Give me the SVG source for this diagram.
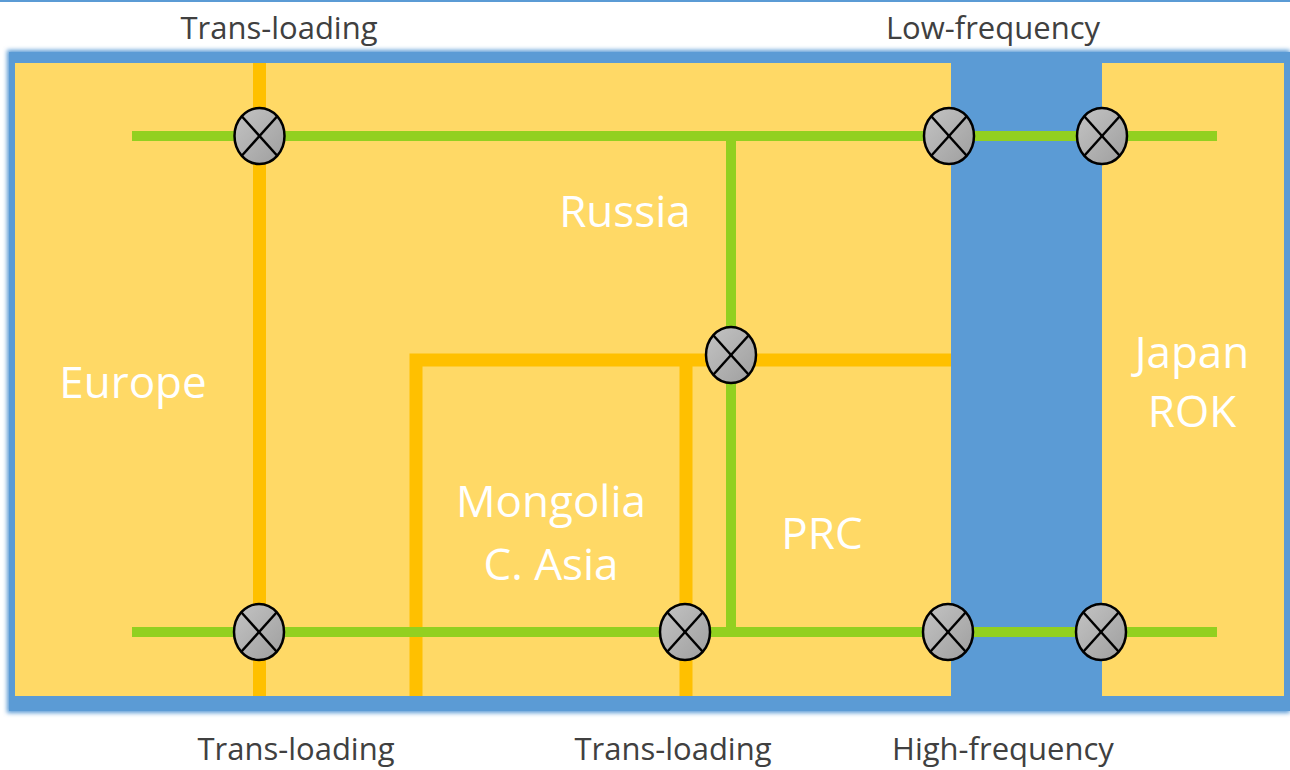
<svg xmlns="http://www.w3.org/2000/svg" width="1290" height="770" viewBox="0 0 1290 770">
<defs>
<linearGradient id="gx" x1="0" y1="0" x2="1" y2="1">
<stop offset="0" stop-color="#c4c4c4"/>
<stop offset="1" stop-color="#9e9e9e"/>
</linearGradient>
<filter id="soft" x="-2%" y="-3%" width="104%" height="106%">
<feGaussianBlur stdDeviation="2"/>
</filter>
<g id="xing">
<ellipse cx="0" cy="0" rx="25" ry="28" fill="url(#gx)" stroke="#000" stroke-width="2.5"/>
<line x1="-17.5" y1="-19.5" x2="17.5" y2="19.5" stroke="#000" stroke-width="2.5"/>
<line x1="17.5" y1="-19.5" x2="-17.5" y2="19.5" stroke="#000" stroke-width="2.5"/>
</g>
</defs>
<style>
.lbl{font-family:"Open Sans","Liberation Sans",sans-serif;font-size:31px;fill:#404040;text-anchor:middle}
.reg{font-family:"Open Sans","Liberation Sans",sans-serif;font-size:44px;fill:#ffffff;text-anchor:middle}
.or{stroke:#ffc000;stroke-width:13;fill:none}
.gr{stroke:#92d020;stroke-width:10;fill:none}
</style>
<rect width="1290" height="770" fill="#ffffff"/>
<line x1="0" y1="1" x2="1290" y2="1" stroke="#5b9bd5" stroke-width="2"/>
<g id="frame">
<rect x="7" y="50" width="1283" height="663" fill="#5b9bd5" filter="url(#soft)"/>
<rect x="9" y="52" width="1281" height="659" fill="#5b9bd5"/>
<rect x="15" y="63" width="1269" height="633" fill="#ffd966"/>
<rect x="951" y="63" width="151" height="633" fill="#5b9bd5"/>
</g>
<g id="connectors">
<line class="or" x1="259.5" y1="63" x2="259.5" y2="696"/>
<polyline class="or" points="416,696 416,360 951,360"/>
<line class="or" x1="686" y1="366" x2="686" y2="696"/>
<line class="gr" x1="132" y1="136" x2="1217" y2="136"/>
<line class="gr" x1="132" y1="632" x2="1217" y2="632"/>
<line class="gr" x1="731" y1="131" x2="731" y2="637"/>
</g>
<g id="crossings">
<use href="#xing" x="259.5" y="136"/>
<use href="#xing" x="949" y="136"/>
<use href="#xing" x="1102" y="136"/>
<use href="#xing" x="731" y="355"/>
<use href="#xing" x="259" y="632"/>
<use href="#xing" x="685" y="632"/>
<use href="#xing" x="948" y="632"/>
<use href="#xing" x="1101" y="632"/>
</g>
<g id="europe"><text class="reg" x="133" y="398">Europe</text></g>
<g id="russia"><text class="reg" x="625" y="227">Russia</text></g>
<g id="mongolia"><text class="reg" x="551" y="517">Mongolia</text><text class="reg" x="551" y="580">C. Asia</text></g>
<g id="prc"><text class="reg" x="822" y="549">PRC</text></g>
<g id="japan"><text class="reg" x="1192" y="368">Japan</text><text class="reg" x="1192" y="427">ROK</text></g>
<g id="labels">
<text class="lbl" x="279" y="39">Trans-loading</text>
<text class="lbl" x="993" y="39">Low-frequency</text>
<text class="lbl" x="296" y="760">Trans-loading</text>
<text class="lbl" x="673" y="760">Trans-loading</text>
<text class="lbl" x="1003" y="760">High-frequency</text>
</g>
</svg>
